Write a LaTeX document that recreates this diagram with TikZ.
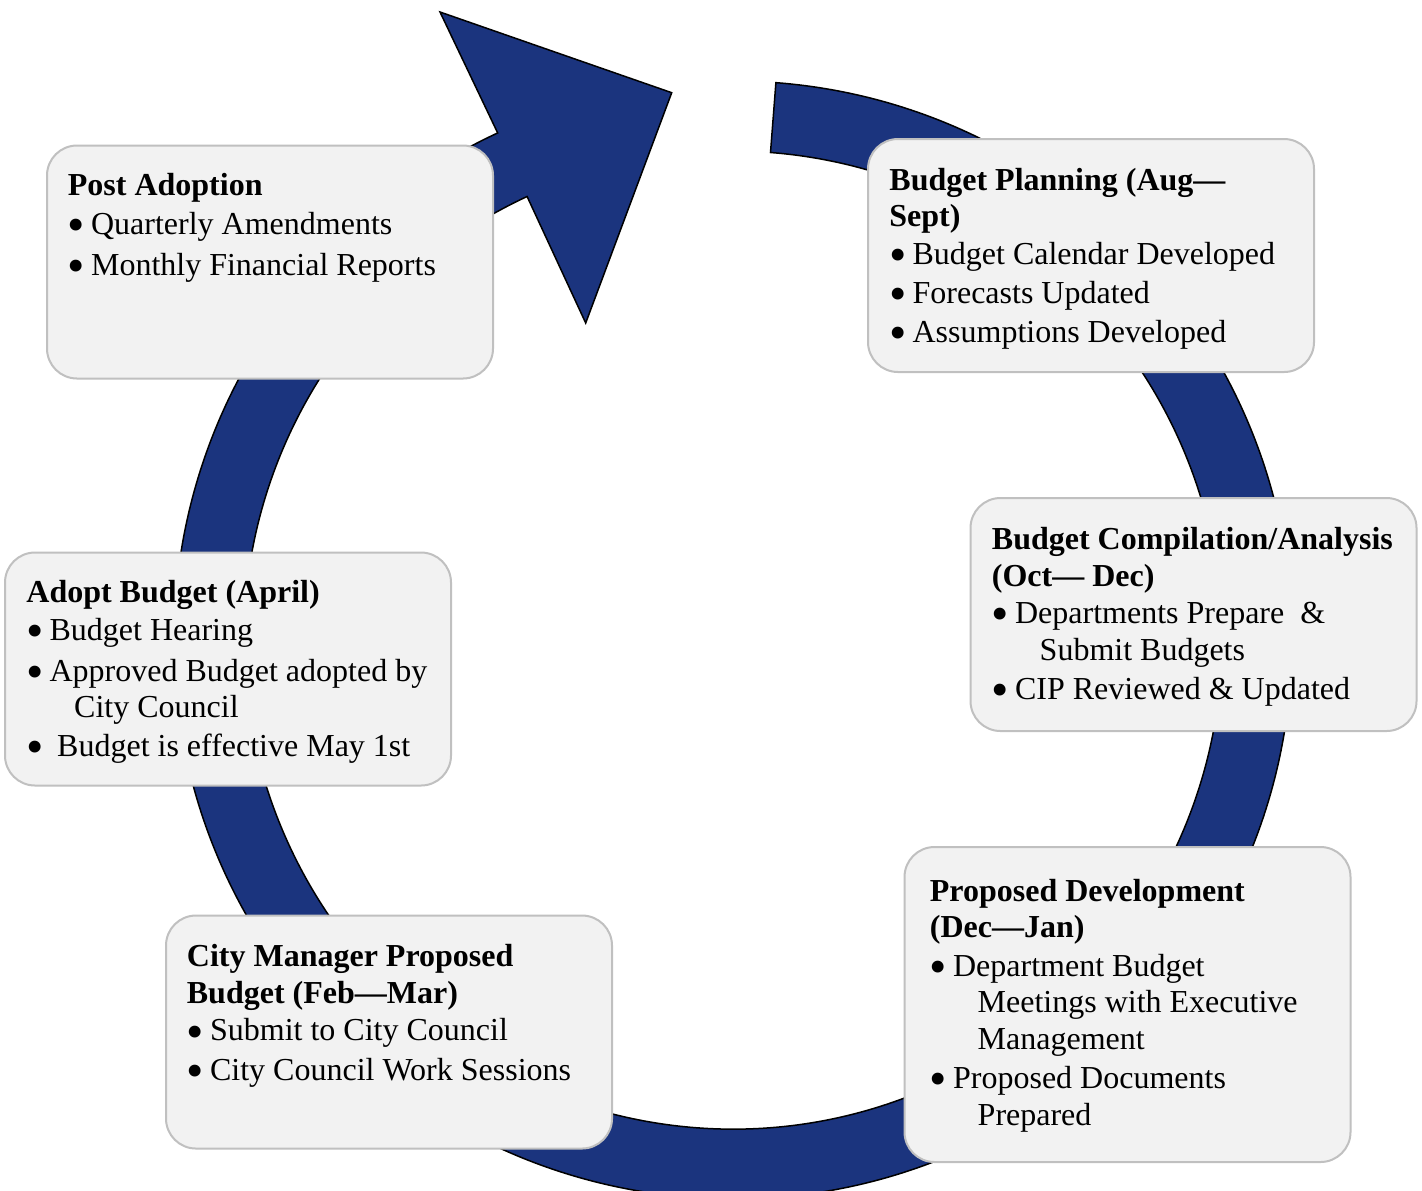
\documentclass[tikz,border=0pt]{standalone}
\usepackage{fontspec}
\setmainfont{Liberation Serif}
\usepackage{graphicx}
\definecolor{ringnavy}{RGB}{27,52,126}
\definecolor{boxfill}{RGB}{242,242,242}
\definecolor{boxline}{RGB}{192,192,192}
\newcommand\bdot{\smash{\raisebox{-3.7pt}{\scalebox{1.55}{•}}}}
\newcommand\bul[1]{\makebox[11.6pt][l]{\bdot}#1}
\newcommand\bulw[1]{\makebox[15.4pt][l]{\bdot}#1}
\newcommand\cont[1]{\hspace*{23.9pt}#1}
\tikzset{
  stage/.style={draw=boxline, line width=1pt, fill=boxfill, rounded corners=15pt,
    minimum width=223pt, minimum height=116.5pt, inner sep=0pt},
  tl/.style={anchor=base west, inner sep=0pt, font=\fontsize{16}{19}\selectfont},
  th/.style={tl, font=\fontsize{16}{19}\selectfont\bfseries},
  ring/.style={fill=ringnavy, draw=black, line width=0.75pt, line join=miter}
}
\begin{document}
\begin{tikzpicture}[x=0.5pt,y=-0.5pt]
\useasboundingbox (0,0) rectangle (1422,1190);
\clip (0,0) rectangle (1422,1190);
\fill[white] (0,0) rectangle (1422,1190);
\coordinate (ctr) at (733,640);
% circular arrow
\path[ring] (775.9,82.65) arc[start angle=-85.6, end angle=245.1, radius=559]
  -- (440,12) -- (671.7,92.7) -- (585.7,323) -- (527.1,196.5)
  arc[start angle=245.1, end angle=-85.6, radius=489] -- cycle;
% boxes
\node[stage] (b1) at (270,262) {};
\node[stage] (b2) at (1091,255.5) {};
\node[stage] (b3) at (1193.5,614.5) {};
\node[stage, minimum height=157.5pt] (b4) at (1127.5,1004.5) {};
\node[stage] (b5) at (389,1032) {};
\node[stage] (b6) at (228,669) {};
% box 1
\node[th] (b1t) at (67.5,195) {Post Adoption};
\node[tl] (b1a) at (67.5,234.3) {\bul{Quarterly Amendments}};
\node[tl] (b1b) at (67.5,275) {\bul{Monthly Financial Reports}};
% box 2
\node[th] (b2t) at (889,190.7) {Budget Planning (Aug—};
\node[th] (b2u) at (889,226.7) {Sept)};
\node[tl] (b2a) at (889,264) {\bul{Budget Calendar Developed}};
\node[tl] (b2b) at (889,303.3) {\bul{Forecasts Updated}};
\node[tl] (b2c) at (889,342.3) {\bul{Assumptions Developed}};
% box 3
\node[th] (b3t) at (991.5,549.3) {Budget Compilation/Analysis};
\node[th] (b3u) at (991.5,586.7) {(Oct— Dec)};
\node[tl] (b3a) at (991.5,623.3) {\bul{Departments Prepare\ \ \&}};
\node[tl] (b3b) at (991.5,660) {\cont{Submit Budgets}};
\node[tl] (b3c) at (991.5,699.3) {\bul{CIP Reviewed \& Updated}};
% box 4
\node[th] (b4t) at (929.5,901) {Proposed Development};
\node[th] (b4u) at (929.5,937.7) {(Dec—Jan)};
\node[tl] (b4a) at (929.5,976) {\bul{Department Budget}};
\node[tl] (b4b) at (929.5,1012.7) {\cont{Meetings with Executive}};
\node[tl] (b4c) at (929.5,1049.3) {\cont{Management}};
\node[tl] (b4d) at (929.5,1088.3) {\bul{Proposed Documents}};
\node[tl] (b4e) at (929.5,1125) {\cont{Prepared}};
% box 5
\node[th] (b5t) at (186.5,966) {City Manager Proposed};
\node[th] (b5u) at (186.5,1003.3) {Budget (Feb—Mar)};
\node[tl] (b5a) at (186.5,1040.7) {\bul{Submit to City Council}};
\node[tl] (b5b) at (186.5,1080) {\bul{City Council Work Sessions}};
% box 6
\node[th] (b6t) at (26,602.3) {Adopt Budget (April)};
\node[tl] (b6a) at (26,640) {\bul{Budget Hearing}};
\node[tl] (b6b) at (26,681) {\bul{Approved Budget adopted by}};
\node[tl] (b6c) at (26,717.7) {\cont{City Council}};
\node[tl] (b6d) at (26,756) {\bulw{Budget is effective May 1st}};
\end{tikzpicture}
\end{document}
